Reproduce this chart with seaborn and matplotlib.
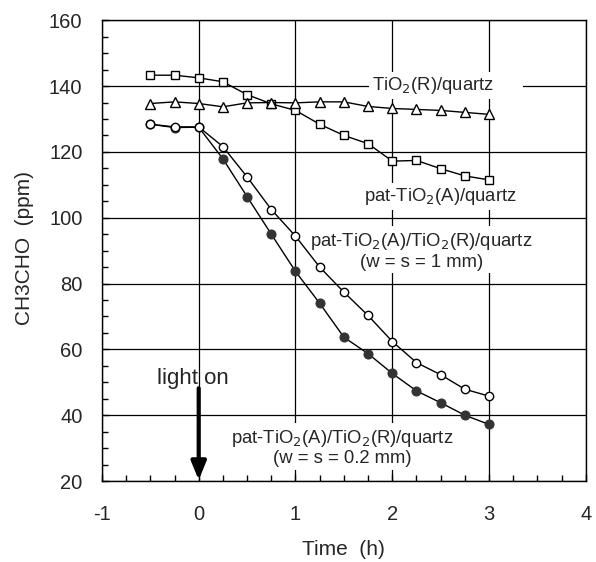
import numpy as np
import pandas as pd
import matplotlib
matplotlib.use('Agg')
import matplotlib.pyplot as plt
from matplotlib.ticker import MultipleLocator
import seaborn as sns

# data
time_h = [-0.5, -0.25, 0, 0.25, 0.5, 0.75, 1.0, 1.25, 1.5, 1.75, 2.0, 2.25, 2.5, 2.75, 3.0]
tio2_r_quartz = [134.7, 135.2, 134.7, 133.7, 134.9, 135.0, 134.9, 135.2, 135.2, 133.8, 133.2, 132.9, 132.6, 132.0, 131.4]
pat_a_quartz = [143.3, 143.3, 142.5, 141.3, 137.4, 134.6, 132.6, 128.4, 125.0, 122.5, 117.2, 117.4, 114.9, 112.7, 111.5]
pat_ws_1mm = [128.4, 127.6, 127.6, 121.6, 112.4, 102.5, 94.4, 85.0, 77.4, 70.3, 62.4, 56.0, 52.3, 47.9, 45.8]
pat_ws_02mm = [128.4, 127.4, 127.5, 117.9, 106.4, 95.0, 83.7, 74.0, 63.7, 58.7, 52.7, 47.4, 43.8, 40.0, 37.2]

sns.set_style('ticks')
plt.rcParams['font.family'] = ['Liberation Sans', 'DejaVu Sans']
plt.rcParams['axes.unicode_minus'] = False

fig = plt.figure(figsize=(5.96, 5.62), dpi=100)
ax = fig.add_axes([0.171, 0.144, 0.812, 0.820])

line_kw = dict(color='black', linewidth=1.0, markeredgecolor='black', markeredgewidth=1.0, zorder=3)
sns.lineplot(x=time_h, y=pat_a_quartz, ax=ax, marker='s', markersize=6, markerfacecolor='white', **line_kw)
sns.lineplot(x=time_h, y=tio2_r_quartz, ax=ax, marker='^', markersize=7, markerfacecolor='white', **line_kw)
sns.lineplot(x=time_h, y=pat_ws_02mm, ax=ax, marker='o', markersize=6.5, markerfacecolor='#333333',
             color='black', linewidth=1.0, markeredgecolor='#333333', zorder=3)
sns.lineplot(x=time_h, y=pat_ws_1mm, ax=ax, marker='o', markersize=6, markerfacecolor='white', **line_kw)

ax.set_xlim(-1, 4)
ax.set_ylim(20, 160)
ax.xaxis.set_major_locator(MultipleLocator(1))
ax.xaxis.set_minor_locator(MultipleLocator(0.25))
ax.yaxis.set_major_locator(MultipleLocator(20))
ax.yaxis.set_minor_locator(MultipleLocator(5))
ax.tick_params(which='both', direction='in', labelsize=14.5, color='black', width=1)
ax.tick_params(axis='x', which='major', length=5, pad=17)
ax.tick_params(axis='y', which='major', length=5, pad=14)
ax.tick_params(which='minor', length=4)
ax.grid(True, which='major', color='black', linewidth=0.9)
ax.set_axisbelow(True)
for s in ax.spines.values():
    s.set_linewidth(1.0)
    s.set_color('black')

ax.set_xlabel('Time  (h)', fontsize=15)
ax.set_ylabel('CH3CHO  (ppm)', fontsize=15)
ax.xaxis.set_label_coords(0.5, -0.128)
ax.yaxis.set_label_coords(-0.140, 0.506)

box = dict(facecolor='white', edgecolor='none', pad=2)
fs = 13.3
ax.text(1.79, 140.2, 'TiO$_2$(R)/quartz      ', fontsize=fs, ha='left', va='center', bbox=box, zorder=2.5)
ax.text(2.5, 106.5, 'pat-TiO$_2$(A)/quartz', fontsize=fs, ha='center', va='center', bbox=box, zorder=2.5)
ax.text(2.3, 90.0, 'pat-TiO$_2$(A)/TiO$_2$(R)/quartz\n(w = s = 1 mm)', fontsize=fs, ha='center',
        va='center', linespacing=1.15, bbox=box, zorder=2.5)
ax.text(1.48, 30.2, 'pat-TiO$_2$(A)/TiO$_2$(R)/quartz\n(w = s = 0.2 mm)', fontsize=fs, ha='center',
        va='center', linespacing=1.15, bbox=box, zorder=2.5)
ax.text(-0.06, 51.3, 'light on', fontsize=16, ha='center', va='center', zorder=4)
ax.annotate('', xy=(0, 20.3), xytext=(0, 48.2),
            arrowprops=dict(arrowstyle='-|>,head_width=0.45,head_length=1.1', color='black', lw=3,
                            shrinkA=0, shrinkB=0), zorder=5)

fig.savefig('out.png', dpi=100)
